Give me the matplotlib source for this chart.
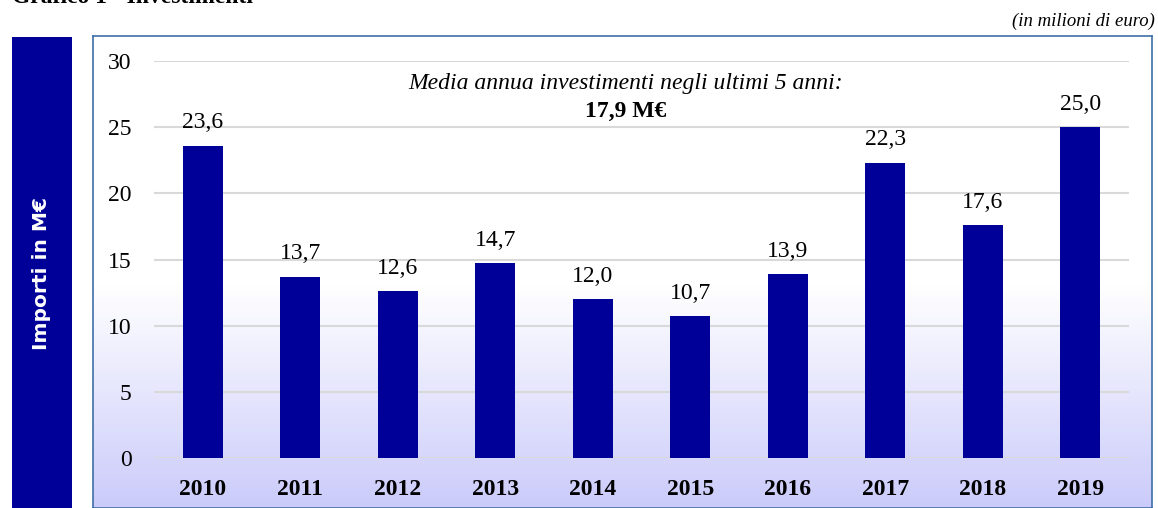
import numpy as np
import matplotlib
matplotlib.use("Agg")
import matplotlib.pyplot as plt
from matplotlib.colors import LinearSegmentedColormap

# Dati (milioni di euro)
anni = ['2010', '2011', '2012', '2013', '2014', '2015', '2016', '2017', '2018', '2019']
importi = [23.6, 13.7, 12.6, 14.7, 12.0, 10.7, 13.9, 22.3, 17.6, 25.0]
media_ultimi5 = '17,9 M€'

W, H = 1158, 508
BLU = '#000099'
SERIF = 'Liberation Serif'
FS = 17

def fx(px):
    return px / W

def fy(py):
    # coordinate pixel dall'alto -> frazione figura
    return 1 - py / H

fig = plt.figure(figsize=(W / 100, H / 100), dpi=100)

# Titolo tagliato in alto
fig.text(fx(12), fy(3), 'Grafico 1 - Investimenti', fontsize=17, fontweight='bold',
         family=SERIF, ha='left', va='baseline')
fig.text(fx(1155), fy(26), '(in milioni di euro)', fontsize=13.5, style='italic',
         family=SERIF, ha='right', va='baseline')

# Riquadro blu a sinistra con etichetta verticale
ax_lab = fig.add_axes([fx(12), 0, fx(60), fy(37)])
ax_lab.set_facecolor(BLU)
ax_lab.set_xticks([])
ax_lab.set_yticks([])
for s in ax_lab.spines.values():
    s.set_visible(False)
ax_lab.text(0.5, fy(274) / fy(37), 'Importi in M€', rotation=90, color='white',
            fontsize=14.5, fontweight='bold', family='DejaVu Sans',
            ha='center', va='center', transform=ax_lab.transAxes)

# Sfondo con sfumatura
ax_bg = fig.add_axes([fx(93), 0, fx(1152 - 93), fy(36)])
cmap = LinearSegmentedColormap.from_list('sf', [(0, '#ffffff'), (0.53, '#ffffff'), (1, '#cbcbfb')])
grad = np.linspace(0, 1, 256).reshape(-1, 1)
ax_bg.imshow(grad, aspect='auto', cmap=cmap, extent=[0, 1, 0, 1], origin='upper')
ax_bg.set_xticks([])
ax_bg.set_yticks([])
for s in ax_bg.spines.values():
    s.set_color('#3f6fa8')
    s.set_linewidth(1.2)

# Grafico a barre
ax = fig.add_axes([fx(154), fy(458), fx(1129 - 154), fy(61) - fy(458)])
ax.patch.set_alpha(0)
x = np.arange(len(anni))
ax.bar(x, importi, width=0.41, color=BLU, zorder=3)
ax.set_xlim(-0.5, len(anni) - 0.5)
ax.set_ylim(0, 30)
ax.set_yticks(range(0, 31, 5))
ax.yaxis.grid(True, color='#d9d9d9', linewidth=1.5, zorder=0)
ax.set_axisbelow(True)
for s in ax.spines.values():
    s.set_visible(False)
ax.tick_params(axis='both', length=0)
ax.tick_params(axis='y', pad=16)
ax.tick_params(axis='x', pad=15)
ax.set_xticks(x)
ax.set_xticklabels(anni, fontsize=FS, fontweight='bold', family=SERIF)
for lbl in ax.get_yticklabels():
    lbl.set_fontsize(FS)
    lbl.set_family(SERIF)

for xi, v in zip(x, importi):
    ax.annotate(f'{v:.1f}'.replace('.', ','), (xi, v), xytext=(0, 9),
                textcoords='offset points', ha='center', va='bottom',
                fontsize=FS, family=SERIF)

fig.text(fx(626), fy(89), 'Media annua investimenti negli ultimi 5 anni:', fontsize=FS,
         style='italic', family=SERIF, ha='center', va='baseline')
fig.text(fx(626), fy(117), media_ultimi5, fontsize=FS, fontweight='bold',
         family=SERIF, ha='center', va='baseline')

fig.savefig('out.png', dpi=100)
